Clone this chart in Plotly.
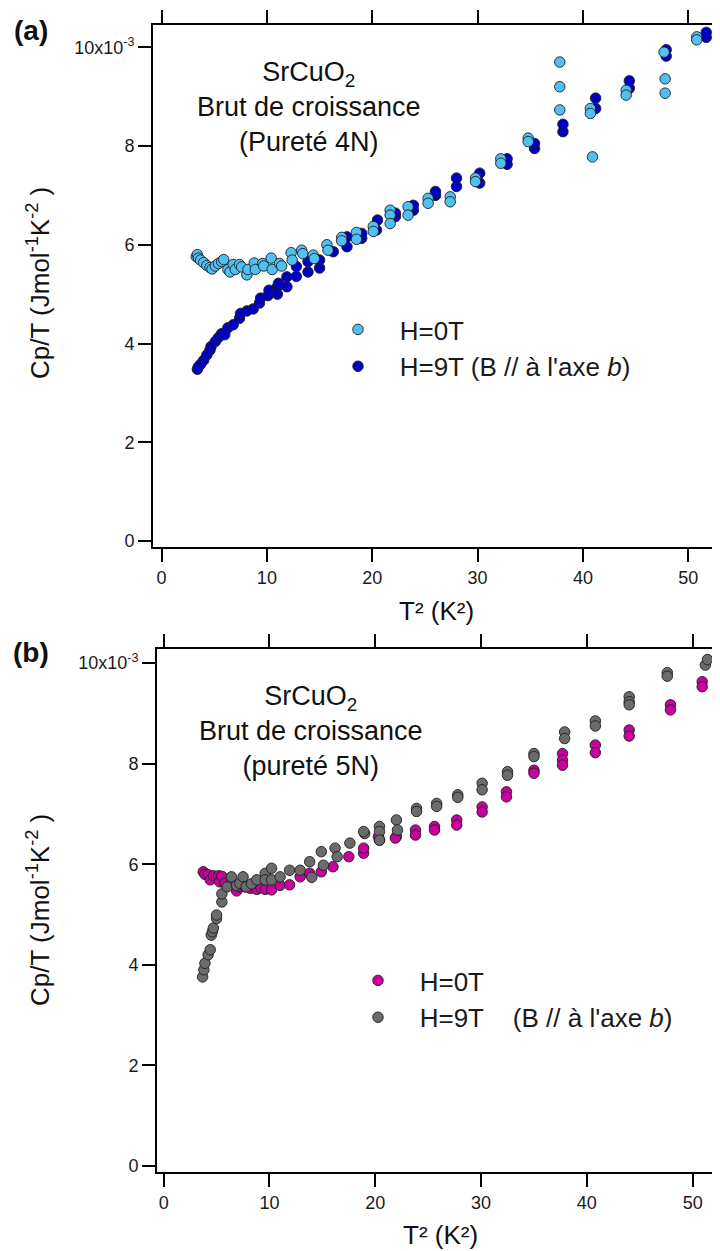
import plotly.graph_objects as go

# the page puts the figure 8 px in from the top-left corner, so the figure is made
# 8 px smaller and every layout position below is given in window pixels
OFF = 8
W, H = 720 - OFF, 1251 - OFF

# ---- data: T^2 (K^2) and Cp/T (x 1e-3 J mol^-1 K^-2) ----
# (a) purity 4N
a_h0_t2 = [3.3, 3.4, 3.5, 3.7, 4.0, 4.3, 4.6, 4.8, 5.1, 5.4, 5.7, 5.9, 6.3, 6.5, 6.8, 7.0,
           7.4, 7.6, 8.1, 8.2, 8.8, 8.9, 9.6, 9.7, 10.4, 10.5, 11.2, 11.4, 12.3, 12.4, 13.3,
           13.4, 14.4, 14.5, 15.7, 15.8, 17.1, 17.1, 18.5, 18.5, 20.1, 20.1, 21.7, 21.7, 21.7,
           23.4, 23.4, 25.3, 25.3, 27.4, 27.4, 29.8, 29.8, 32.2, 32.2, 34.8, 34.8, 37.8, 37.8,
           37.8, 40.7, 40.7, 40.9, 44.1, 44.1, 47.7, 47.8, 47.8, 50.8, 50.8]
a_h0_cp = [5.76, 5.80, 5.73, 5.69, 5.64, 5.58, 5.54, 5.51, 5.57, 5.62, 5.66, 5.70, 5.50, 5.45,
           5.60, 5.50, 5.60, 5.55, 5.39, 5.50, 5.63, 5.50, 5.62, 5.57, 5.73, 5.50, 5.62, 5.57,
           5.84, 5.69, 5.89, 5.82, 5.79, 5.72, 6.00, 5.89, 6.15, 6.08, 6.25, 6.11, 6.37, 6.27,
           6.70, 6.60, 6.43, 6.77, 6.60, 6.94, 6.84, 6.97, 6.87, 7.35, 7.28, 7.74, 7.65, 8.16,
           8.09, 9.70, 9.20, 8.73, 8.76, 8.66, 7.78, 9.13, 9.03, 9.90, 9.36, 9.07, 10.21, 10.15]
a_h9_t2 = [3.4, 3.5, 3.7, 4.0, 4.3, 4.6, 4.7, 5.1, 5.4, 5.7, 6.0, 6.3, 6.8, 7.4, 7.5, 8.1,
           8.7, 9.3, 9.4, 10.1, 10.2, 11.0, 11.0, 11.1, 11.9, 11.9, 12.8, 12.8, 13.9, 13.9,
           15.0, 15.0, 16.3, 17.6, 17.6, 19.0, 19.0, 20.4, 20.5, 22.2, 22.2, 23.9, 23.9, 26.0,
           26.0, 28.0, 28.0, 30.2, 30.2, 32.8, 32.8, 35.4, 35.4, 38.1, 38.1, 41.2, 41.2, 44.4,
           44.4, 47.9, 47.9, 51.7, 51.7]
a_h9_cp = [3.48, 3.53, 3.58, 3.66, 3.77, 3.87, 3.94, 4.04, 4.12, 4.20, 4.18, 4.32, 4.38, 4.51,
           4.61, 4.66, 4.70, 4.82, 4.92, 4.97, 5.08, 5.00, 5.15, 5.22, 5.15, 5.35, 5.36, 5.56,
           5.45, 5.66, 5.53, 5.69, 5.86, 5.96, 6.16, 6.13, 6.23, 6.30, 6.50, 6.57, 6.64, 6.70,
           6.80, 7.00, 7.08, 7.18, 7.35, 7.25, 7.45, 7.63, 7.74, 7.95, 8.05, 8.29, 8.44, 8.76,
           8.97, 9.17, 9.32, 9.82, 9.95, 10.20, 10.30]

# (b) purity 5N
b_h0_t2 = [3.74, 3.9, 4.2, 4.4, 4.7, 5.0, 5.2, 5.3, 5.5, 5.8, 6.4, 6.9, 7.2, 7.7, 8.2, 8.8,
           9.2, 9.6, 10.2, 11.0, 11.9, 12.9, 13.8, 14.9, 16.0, 17.5, 18.9, 18.9, 20.3, 20.4,
           22.0, 21.9, 23.8, 23.8, 25.6, 25.6, 27.7, 27.7, 30.1, 30.1, 32.4, 32.4, 35.0, 35.0,
           37.7, 37.7, 37.7, 40.8, 40.8, 44.0, 44.0, 47.9, 47.9, 50.9, 50.9]
b_h0_cp = [5.85, 5.80, 5.79, 5.69, 5.77, 5.72, 5.77, 5.65, 5.76, 5.62, 5.62, 5.47, 5.55, 5.55,
           5.52, 5.50, 5.53, 5.50, 5.49, 5.58, 5.59, 5.75, 5.82, 5.85, 5.95, 6.15, 6.22, 6.32,
           6.55, 6.48, 6.55, 6.52, 6.68, 6.58, 6.75, 6.68, 6.88, 6.78, 7.14, 7.04, 7.44, 7.34,
           7.87, 7.81, 8.20, 8.07, 7.97, 8.37, 8.22, 8.67, 8.55, 9.17, 9.07, 9.63, 9.53]
b_h9_t2 = [3.68, 3.8, 3.9, 4.2, 4.4, 4.5, 4.6, 4.7, 5.0, 5.0, 5.5, 5.5, 6.0, 6.4, 6.9, 7.2,
           7.5, 7.8, 8.3, 8.8, 9.6, 9.6, 10.2, 10.2, 11.0, 11.9, 12.9, 13.8, 14.0, 14.9, 15.1,
           16.2, 16.4, 17.6, 19.0, 18.9, 20.4, 20.4, 20.4, 22.0, 22.1, 23.9, 23.9, 25.8, 25.8,
           27.8, 27.8, 30.1, 30.1, 32.5, 32.5, 35.0, 35.0, 37.9, 37.9, 40.8, 40.8, 44.0, 44.0,
           44.0, 47.6, 47.6, 51.2, 51.4]
b_h9_cp = [3.76, 3.90, 4.03, 4.20, 4.30, 4.59, 4.66, 4.73, 4.92, 4.99, 5.25, 5.41, 5.55, 5.75,
           5.58, 5.62, 5.75, 5.55, 5.61, 5.69, 5.82, 5.69, 5.92, 5.69, 5.75, 5.88, 5.88, 6.05,
           5.74, 6.25, 5.98, 6.32, 6.15, 6.42, 6.61, 6.65, 6.75, 6.65, 6.48, 6.88, 6.68, 7.11,
           7.05, 7.21, 7.15, 7.38, 7.33, 7.61, 7.48, 7.84, 7.77, 8.20, 8.14, 8.63, 8.50, 8.85,
           8.75, 9.33, 9.23, 9.17, 9.81, 9.74, 9.96, 10.07]

y_ticks = [0, 2, 4, 6, 8, 10]
y_labels = ["0", "2", "4", "6", "8", "10x10<sup>-3</sup>"]
x_ticks = [0, 10, 20, 30, 40, 50]

FONT = "Arial, Liberation Sans, sans-serif"
NB = "\u00a0"


def px(v):
    return (v - OFF) / W


def py(v):
    return 1 - (v - OFF) / H


def pts(x, y, color, name, xa, ya, leg):
    return go.Scatter(x=x, y=y, mode="markers", name=name, xaxis=xa, yaxis=ya, legend=leg,
                      marker=dict(size=10.5, color=color, line=dict(color="#1e1e1e", width=0.9)))


fig = go.Figure()
fig.add_trace(pts(a_h9_t2, a_h9_cp, "#0000C4", NB * 3 + "H=9T (B // à l'axe <i>b</i>)", "x", "y", "legend"))
fig.add_trace(pts(a_h0_t2, a_h0_cp, "#4FC0F2", NB * 3 + "H=0T", "x", "y", "legend"))
fig.add_trace(pts(b_h0_t2, b_h0_cp, "#C8009E", NB * 3 + "H=0T", "x2", "y2", "legend2"))
fig.add_trace(pts(b_h9_t2, b_h9_cp, "#6B6B6B", NB * 3 + "H=9T" + NB * 4 + "(B // à l'axe <i>b</i>)",
                  "x2", "y2", "legend2"))

ax = dict(showline=True, linecolor="black", linewidth=2, mirror="ticks", ticks="outside",
          ticklen=13, tickwidth=1.6, tickcolor="black", showgrid=False, zeroline=False,
          tickfont=dict(size=18, color="#1a1a1a"), automargin=False)

fig.update_layout(
    width=W, height=H, margin=dict(l=0, r=0, t=0, b=0),
    paper_bgcolor="white", plot_bgcolor="white",
    font=dict(family=FONT, color="#1a1a1a"),
    xaxis=dict(ax, domain=[px(153), px(713.3)], range=[-0.81, 52.37], tickvals=x_ticks, anchor="y"),
    yaxis=dict(ax, domain=[py(547), py(25)], range=[-0.12, 10.45], tickvals=y_ticks,
               ticktext=y_labels, anchor="x"),
    xaxis2=dict(ax, domain=[px(157), px(713.3)], range=[-0.63, 51.95], tickvals=x_ticks, anchor="y2"),
    yaxis2=dict(ax, domain=[py(1172), py(649)], range=[-0.12, 10.28], tickvals=y_ticks,
                ticktext=y_labels, anchor="x2"),
    legend=dict(x=px(338), y=py(348), xanchor="left", yanchor="middle", traceorder="reversed",
                bgcolor="rgba(0,0,0,0)", font=dict(size=26, family=FONT)),
    legend2=dict(x=px(358), y=py(999), xanchor="left", yanchor="middle",
                 bgcolor="rgba(0,0,0,0)", font=dict(size=26, family=FONT)),
)

notes = [
    ("<b>(a)</b>", 31, 30, 28, 0),
    ("<b>(b)</b>", 31, 652, 28, 0),
    ("SrCuO<sub>2</sub><br>Brut de croissance<br>(Pureté 4N)", 309, 107, 27, 0),
    ("SrCuO<sub>2</sub><br>Brut de croissance<br>(pureté 5N)", 311, 731, 27, 0),
    ("T² (K²)", 437, 611, 26, 0),
    ("T² (K²)", 440, 1235, 26, 0),
    ("Cp/T (Jmol<sup>-1</sup>K<sup>-2</sup> )", 38, 283, 26, -90),
    ("Cp/T (Jmol<sup>-1</sup>K<sup>-2</sup> )", 38, 910, 26, -90),
]
for text, xx, yy, size, ang in notes:
    fig.add_annotation(text=text, x=px(xx), y=py(yy), xref="paper", yref="paper",
                       xanchor="center", yanchor="middle", showarrow=False, textangle=ang,
                       font=dict(size=size, family=FONT, color="#111"))

fig.write_html("out.html")
